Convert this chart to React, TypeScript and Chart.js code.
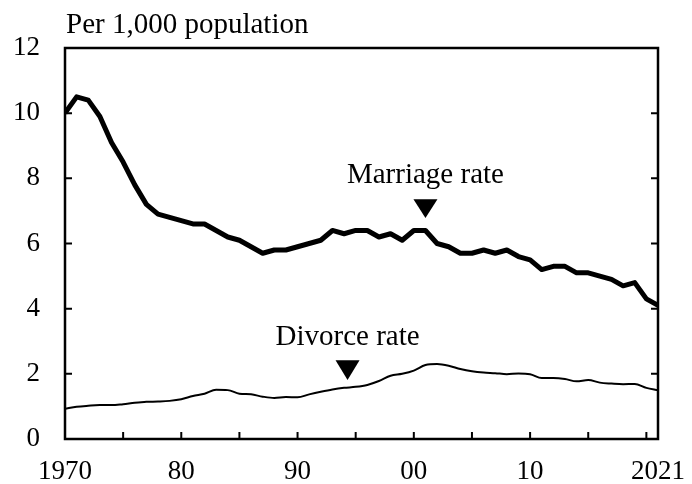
import React, { useEffect, useRef } from "react";
import { Chart, registerables } from "chart.js";

Chart.register(...registerables);

const years: number[] = [
  1970, 1971, 1972, 1973, 1974, 1975, 1976, 1977, 1978, 1979,
  1980, 1981, 1982, 1983, 1984, 1985, 1986, 1987, 1988, 1989,
  1990, 1991, 1992, 1993, 1994, 1995, 1996, 1997, 1998, 1999,
  2000, 2001, 2002, 2003, 2004, 2005, 2006, 2007, 2008, 2009,
  2010, 2011, 2012, 2013, 2014, 2015, 2016, 2017, 2018, 2019,
  2020, 2021,
];

const marriageRate: number[] = [
  10.0, 10.5, 10.4, 9.9, 9.1, 8.5, 7.8, 7.2, 6.9, 6.8,
  6.7, 6.6, 6.6, 6.4, 6.2, 6.1, 5.9, 5.7, 5.8, 5.8,
  5.9, 6.0, 6.1, 6.4, 6.3, 6.4, 6.4, 6.2, 6.3, 6.1,
  6.4, 6.4, 6.0, 5.9, 5.7, 5.7, 5.8, 5.7, 5.8, 5.6,
  5.5, 5.2, 5.3, 5.3, 5.1, 5.1, 5.0, 4.9, 4.7, 4.8,
  4.3, 4.1,
];

const divorceRate: number[] = [
  0.93, 0.99, 1.02, 1.04, 1.04, 1.07, 1.11, 1.14, 1.15, 1.17,
  1.22, 1.32, 1.39, 1.51, 1.50, 1.39, 1.37, 1.30, 1.26, 1.29,
  1.28, 1.37, 1.45, 1.52, 1.57, 1.60, 1.66, 1.78, 1.94, 2.00,
  2.10, 2.27, 2.30, 2.25, 2.15, 2.08, 2.04, 2.02, 1.99, 2.01,
  1.99, 1.87, 1.87, 1.84, 1.77, 1.81, 1.73, 1.70, 1.68, 1.69,
  1.57, 1.50,
];

const xTickValues: number[] = [1970, 1980, 1990, 2000, 2010, 2021];
const xTickLabels: string[] = ["1970", "80", "90", "00", "10", "2021"];
const xMinorTicks: number[] = [1975, 1980, 1985, 1990, 1995, 2000, 2005, 2010, 2015, 2020];
const yTickValues: number[] = [0, 2, 4, 6, 8, 10, 12];

const yAxisTitle = "Per 1,000 population";
const marriageNote = { text: "Marriage rate", year: 2001, textY: 8.1, triTop: 7.36, triTip: 6.78 };
const divorceNote = { text: "Divorce rate", year: 1994.3, textY: 3.13, triTop: 2.42, triTip: 1.81 };

const FONT = "'Liberation Serif', 'Times New Roman', serif";

export default function App() {
  const ref = useRef<HTMLCanvasElement | null>(null);

  useEffect(() => {
    document.body.style.margin = "0";
    const canvas = ref.current;
    if (!canvas) return;

    const framePlugin = {
      id: "frame",
      afterDraw(chart: any) {
        const { ctx, chartArea } = chart;
        const xs = chart.scales.x;
        const ys = chart.scales.y;
        const { left, right, top, bottom } = chartArea;
        ctx.save();
        ctx.strokeStyle = "#000";
        ctx.lineWidth = 2.5;
        ctx.beginPath();
        ctx.rect(left, top, right - left, bottom - top);
        ctx.stroke();
        const tl = 7;
        ctx.lineWidth = 2;
        ctx.beginPath();
        for (const v of xMinorTicks) {
          const px = xs.getPixelForValue(v);
          ctx.moveTo(px, bottom);
          ctx.lineTo(px, bottom - tl);
        }
        for (const v of yTickValues) {
          const py = ys.getPixelForValue(v);
          ctx.moveTo(left, py);
          ctx.lineTo(left + tl, py);
          ctx.moveTo(right, py);
          ctx.lineTo(right - tl, py);
        }
        ctx.stroke();

        ctx.fillStyle = "#000";
        ctx.font = `29px ${FONT}`;
        ctx.textAlign = "left";
        ctx.textBaseline = "alphabetic";
        ctx.fillText(yAxisTitle, left + 1, 33);

        for (const n of [marriageNote, divorceNote]) {
          const px = xs.getPixelForValue(n.year);
          ctx.textAlign = "center";
          ctx.textBaseline = "middle";
          ctx.fillText(n.text, px, ys.getPixelForValue(n.textY));
          const t = ys.getPixelForValue(n.triTop);
          const b = ys.getPixelForValue(n.triTip);
          const hw = 12;
          ctx.beginPath();
          ctx.moveTo(px - hw, t);
          ctx.lineTo(px + hw, t);
          ctx.lineTo(px, b);
          ctx.closePath();
          ctx.fill();
        }
        ctx.restore();
      },
    };

    const chart = new Chart(canvas, {
      type: "line",
      data: {
        labels: years,
        datasets: [
          {
            label: "Marriage rate",
            data: years.map((y, i) => ({ x: y, y: marriageRate[i] })),
            borderColor: "#000",
            borderWidth: 5,
            pointRadius: 0,
            tension: 0,
            borderJoinStyle: "round",
            fill: false,
          },
          {
            label: "Divorce rate",
            data: years.map((y, i) => ({ x: y, y: divorceRate[i] })),
            borderColor: "#000",
            borderWidth: 2,
            pointRadius: 0,
            tension: 0.4,
            cubicInterpolationMode: "monotone",
            fill: false,
          },
        ],
      },
      options: {
        responsive: false,
        animation: false,
        layout: { padding: { left: 0, right: 34, top: 48, bottom: 0 } },
        plugins: { legend: { display: false }, tooltip: { enabled: false }, title: { display: false } },
        scales: {
          x: {
            type: "linear",
            min: 1970,
            max: 2021,
            grid: { display: false, drawTicks: false },
            border: { display: false },
            afterBuildTicks: (scale: any) => {
              scale.ticks = xTickValues.map((v) => ({ value: v }));
            },
            afterFit: (scale: any) => {
              scale.height = 45;
              scale.paddingLeft = 0;
              scale.paddingRight = 0;
            },
            ticks: {
              autoSkip: false,
              maxRotation: 0,
              padding: 17,
              color: "#000",
              font: { family: FONT, size: 27 },
              callback: (v: any) => {
                const i = xTickValues.indexOf(Number(v));
                return i >= 0 ? xTickLabels[i] : "";
              },
            },
          },
          y: {
            min: 0,
            max: 12,
            grid: { display: false, drawTicks: false },
            border: { display: false },
            afterBuildTicks: (scale: any) => {
              scale.ticks = yTickValues.map((v) => ({ value: v }));
            },
            afterFit: (scale: any) => {
              scale.width = 65;
              scale.paddingTop = 0;
              scale.paddingBottom = 0;
            },
            ticks: {
              padding: 25,
              color: "#000",
              font: { family: FONT, size: 27 },
            },
          },
        },
      },
      plugins: [framePlugin],
    } as any);

    return () => chart.destroy();
  }, []);

  return <canvas ref={ref} width={692} height={484} style={{ display: "block" }} />;
}
